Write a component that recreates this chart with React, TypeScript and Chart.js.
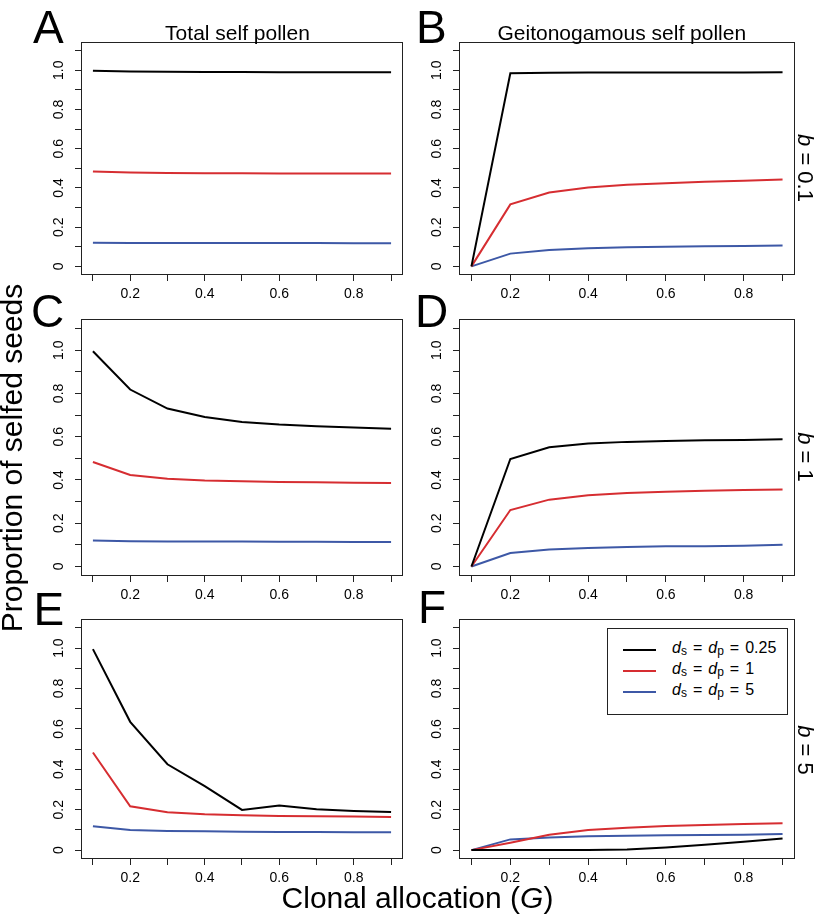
import React, { useEffect, useRef } from 'react';
import { Chart, registerables } from 'chart.js';

Chart.register(...registerables);

// ---------------- data ----------------
const G = [0.1, 0.2, 0.3, 0.4, 0.5, 0.6, 0.7, 0.8, 0.9];
const X_TICKS = [0.1, 0.2, 0.3, 0.4, 0.5, 0.6, 0.7, 0.8, 0.9];
const X_LABELED = [0.2, 0.4, 0.6, 0.8];
const Y_TICKS = [0, 0.1, 0.2, 0.3, 0.4, 0.5, 0.6, 0.7, 0.8, 0.9, 1.0, 1.1];
const Y_LABEL_VALUES = [0, 0.2, 0.4, 0.6, 0.8, 1.0];
const Y_LABELS = ['0', '0.2', '0.4', '0.6', '0.8', '1.0'];
const SERIES_VALUES = ['0.25', '1', '5'];
const COLUMN_TITLES = ['Total self pollen', 'Geitonogamous self pollen'];
const ROW_B = ['0.1', '1', '5'];
const PANEL_LETTERS = ['A', 'B', 'C', 'D', 'E', 'F'];

const A_black = [0.997, 0.993, 0.992, 0.991, 0.991, 0.99, 0.99, 0.99, 0.99];
const A_red = [0.484, 0.478, 0.476, 0.475, 0.475, 0.474, 0.474, 0.474, 0.473];
const A_blue = [0.12, 0.119, 0.119, 0.119, 0.119, 0.119, 0.119, 0.118, 0.118];

const B_black = [0, 0.985, 0.987, 0.988, 0.988, 0.989, 0.989, 0.989, 0.99];
const B_red = [0, 0.316, 0.377, 0.402, 0.416, 0.424, 0.431, 0.436, 0.443];
const B_blue = [0, 0.065, 0.083, 0.092, 0.097, 0.1, 0.102, 0.104, 0.107];

const C_black = [0.995, 0.818, 0.73, 0.691, 0.668, 0.656, 0.648, 0.642, 0.637];
const C_red = [0.483, 0.423, 0.406, 0.398, 0.394, 0.39, 0.389, 0.387, 0.386];
const C_blue = [0.12, 0.117, 0.116, 0.115, 0.115, 0.114, 0.114, 0.113, 0.113];

const D_black = [0, 0.497, 0.551, 0.568, 0.576, 0.58, 0.583, 0.585, 0.588];
const D_red = [0, 0.261, 0.309, 0.329, 0.34, 0.346, 0.35, 0.353, 0.356];
const D_blue = [0, 0.062, 0.079, 0.086, 0.09, 0.093, 0.094, 0.096, 0.1];

const E_black = [0.995, 0.635, 0.425, 0.317, 0.199, 0.221, 0.202, 0.194, 0.189];
const E_red = [0.483, 0.217, 0.187, 0.177, 0.172, 0.169, 0.167, 0.166, 0.164];
const E_blue = [0.118, 0.1, 0.095, 0.093, 0.091, 0.09, 0.09, 0.088, 0.088];

const F_black = [0, 0, 0, 0, 0.003, 0.013, 0.027, 0.041, 0.058];
const F_red = [0, 0.036, 0.076, 0.1, 0.111, 0.119, 0.124, 0.129, 0.133];
const F_blue = [0, 0.053, 0.063, 0.068, 0.071, 0.073, 0.075, 0.076, 0.08];

// ---------------- styling / layout ----------------
const FONT = '"Liberation Sans", Arial, Helvetica, sans-serif';
const COLORS = ['#000000', '#d62d31', '#3d58a6'];
const AXIS_W = 50;
const AXIS_H = 34;
const PAD_T = 4;
const PAD_R = 4;
const TICK_FONT = 14;

const COLS = [
  { left: 81, width: 322 },
  { left: 459, width: 336 },
];
const ROWS = [
  { top: 42, height: 233 },
  { top: 319, height: 257 },
  { top: 619, height: 240 },
];

const PANEL_SERIES = [
  [A_black, A_red, A_blue],
  [B_black, B_red, B_blue],
  [C_black, C_red, C_blue],
  [D_black, D_red, D_blue],
  [E_black, E_red, E_blue],
  [F_black, F_red, F_blue],
];

const boxPlugin = {
  id: 'rbox',
  afterDraw(chart: any) {
    const { ctx, chartArea: a } = chart;
    ctx.save();
    ctx.strokeStyle = '#222';
    ctx.lineWidth = 1;
    const l = Math.round(a.left) + 0.5;
    const t = Math.round(a.top) + 0.5;
    const r = Math.round(a.right) - 0.5;
    const b = Math.round(a.bottom) - 0.5;
    ctx.strokeRect(l, t, r - l, b - t);
    // rotated y tick labels (R style, las = 0)
    ctx.fillStyle = '#000';
    ctx.font = `${TICK_FONT}px ${FONT}`;
    ctx.textAlign = 'center';
    ctx.textBaseline = 'alphabetic';
    const ys = chart.scales.y;
    Y_LABEL_VALUES.forEach((v, i) => {
      const y = ys.getPixelForValue(v);
      ctx.save();
      ctx.translate(a.left - 18.5, y);
      ctx.rotate(-Math.PI / 2);
      ctx.fillText(Y_LABELS[i], 0, 0);
      ctx.restore();
    });
    ctx.restore();
  },
};

function Panel({ idx }: { idx: number }) {
  const ref = useRef<HTMLCanvasElement | null>(null);
  const col = COLS[idx % 2];
  const row = ROWS[Math.floor(idx / 2)];
  const w = AXIS_W + col.width + PAD_R;
  const h = PAD_T + row.height + AXIS_H;

  useEffect(() => {
    if (!ref.current) return;
    const series = PANEL_SERIES[idx];
    const chart = new Chart(ref.current, {
      type: 'line',
      data: {
        datasets: series.map((vals, si) => ({
          label: `d = ${SERIES_VALUES[si]}`,
          data: G.map((x, i) => ({ x, y: vals[i] })),
          borderColor: COLORS[si],
          backgroundColor: COLORS[si],
          borderWidth: 2,
          pointRadius: 0,
          tension: 0,
          fill: false,
        })),
      },
      options: {
        animation: false,
        responsive: false,
        devicePixelRatio: 1,
        layout: { padding: { left: 0, top: PAD_T, right: PAD_R, bottom: 0 } },
        plugins: { legend: { display: false }, tooltip: { enabled: false } },
        scales: {
          x: {
            type: 'linear',
            min: 0.068,
            max: 0.932,
            afterBuildTicks: (s: any) => {
              s.ticks = X_TICKS.map((v) => ({ value: v }));
            },
            afterFit: (s: any) => {
              s.height = AXIS_H;
              s.paddingLeft = 0;
              s.paddingRight = 0;
            },
            grid: { drawOnChartArea: false, drawTicks: true, tickLength: 6, color: '#222', lineWidth: 1 },
            border: { display: false },
            ticks: {
              autoSkip: false,
              maxRotation: 0,
              minRotation: 0,
              padding: 5,
              color: '#000',
              font: { family: FONT, size: TICK_FONT },
              callback: (value: any) => {
                const v = Number(value);
                const hit = X_LABELED.find((l) => Math.abs(l - v) < 1e-9);
                return hit === undefined ? '' : String(hit);
              },
            },
          },
          y: {
            type: 'linear',
            min: -0.044,
            max: 1.144,
            afterBuildTicks: (s: any) => {
              s.ticks = Y_TICKS.map((v) => ({ value: v }));
            },
            afterFit: (s: any) => {
              s.width = AXIS_W;
              s.paddingTop = 0;
              s.paddingBottom = 0;
            },
            grid: { drawOnChartArea: false, drawTicks: true, tickLength: 6, color: '#222', lineWidth: 1 },
            border: { display: false },
            ticks: { display: false, autoSkip: false },
          },
        },
      },
      plugins: [boxPlugin],
    } as any);
    return () => chart.destroy();
  }, [idx]);

  return (
    <canvas
      ref={ref}
      width={w}
      height={h}
      style={{
        position: 'absolute',
        left: col.left - AXIS_W,
        top: row.top - PAD_T,
        width: w,
        height: h,
      }}
    />
  );
}

// text positioned by its alphabetic baseline (line-height 1)
function Txt({
  x,
  baseline,
  size,
  center,
  children,
}: {
  x: number;
  baseline: number;
  size: number;
  center?: boolean;
  children: any;
}) {
  return (
    <div
      style={{
        position: 'absolute',
        left: x,
        top: baseline - 0.8465 * size,
        fontSize: size,
        lineHeight: 1,
        whiteSpace: 'nowrap',
        transform: center ? 'translateX(-50%)' : undefined,
      }}
    >
      {children}
    </div>
  );
}

function RotTxt({ cx, cy, size, deg, children }: { cx: number; cy: number; size: number; deg: number; children: any }) {
  return (
    <div
      style={{
        position: 'absolute',
        left: cx,
        top: cy,
        fontSize: size,
        lineHeight: 1,
        whiteSpace: 'nowrap',
        transform: `translate(-50%, -50%) rotate(${deg}deg)`,
      }}
    >
      {children}
    </div>
  );
}

const LETTER_POS = [
  { x: 33, b: 43 },
  { x: 416, b: 43 },
  { x: 31, b: 327 },
  { x: 415, b: 327 },
  { x: 33.5, b: 625 },
  { x: 418, b: 623 },
];

const B_POS = [168, 457, 750];

function LegendLabel({ value }: { value: string }) {
  const sub = { fontSize: 12, position: 'relative' as const, top: 2 };
  const eq = { margin: '0 6px' };
  return (
    <span>
      <i>d</i>
      <span style={sub}>s</span>
      <span style={eq}>=</span>
      <i>d</i>
      <span style={sub}>p</span>
      <span style={eq}>=</span>
      {value}
    </span>
  );
}

export default function App() {
  return (
    <div
      style={{
        position: 'absolute',
        left: 0,
        top: 0,
        width: 816,
        height: 916,
        background: '#fff',
        fontFamily: FONT,
        color: '#000',
        overflow: 'hidden',
      }}
    >
      {PANEL_LETTERS.map((_, i) => (
        <Panel key={i} idx={i} />
      ))}
      {PANEL_LETTERS.map((L, i) => (
        <Txt key={L} x={LETTER_POS[i].x} baseline={LETTER_POS[i].b} size={46}>
          {L}
        </Txt>
      ))}
      <Txt x={237.5} baseline={39.5} size={21} center>
        {COLUMN_TITLES[0]}
      </Txt>
      <Txt x={621.8} baseline={39.5} size={21} center>
        {COLUMN_TITLES[1]}
      </Txt>
      {ROW_B.map((b, i) => (
        <RotTxt key={b} cx={804.6} cy={B_POS[i]} size={22} deg={90}>
          <i>b</i> = {b}
        </RotTxt>
      ))}
      <RotTxt cx={11.6} cy={457.5} size={30} deg={-90}>
        Proportion of selfed seeds
      </RotTxt>
      <Txt x={417.5} baseline={908} size={30} center>
        Clonal allocation (<i>G</i>)
      </Txt>
      {/* legend in panel F */}
      <div
        style={{
          position: 'absolute',
          left: 607,
          top: 628,
          width: 179,
          height: 85,
          border: '1px solid #222',
          background: '#fff',
        }}
      />
      {SERIES_VALUES.map((v, i) => (
        <React.Fragment key={v}>
          <div
            style={{
              position: 'absolute',
              left: 623,
              top: 648.5 + i * 21.2,
              width: 33,
              height: 2,
              background: COLORS[i],
            }}
          />
          <Txt x={672} baseline={653.5 + i * 20.9} size={16}>
            <LegendLabel value={v} />
          </Txt>
        </React.Fragment>
      ))}
    </div>
  );
}
